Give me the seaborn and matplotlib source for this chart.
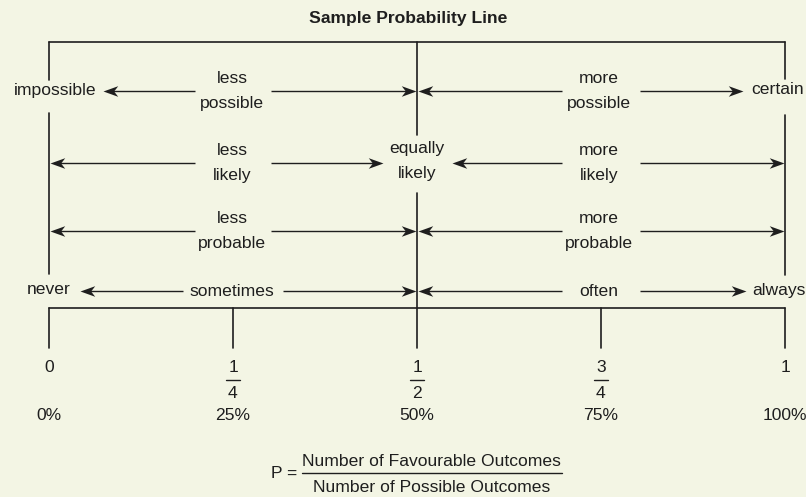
import numpy as np
import pandas as pd
import seaborn as sns
import matplotlib.pyplot as plt
from matplotlib.path import Path

# words along the probability line (one entry per row, top to bottom)
left_words = ["impossible", "", "", "never"]
right_words = ["certain", "", "", "always"]
left_labels = ["less\npossible", "less\nlikely", "less\nprobable", "sometimes"]
middle_labels = ["", "equally\nlikely", "", ""]
right_labels = ["more\npossible", "more\nlikely", "more\nprobable", "often"]

# scale under the line
tick_values = [0, 0.25, 0.5, 0.75, 1]
tick_numerators = ["0", "1", "1", "3", "1"]
tick_denominators = ["", "4", "2", "4", ""]
tick_percents = ["0%", "25%", "50%", "75%", "100%"]

title = "Sample Probability Line"
formula_top = "Number of Favourable Outcomes"
formula_bottom = "Number of Possible Outcomes"

# ---- layout (x in probability units, y in pixels from top) ----
bg = "#F3F5E4"
ink = "#1e1e1e"
row_y = [91, 163, 231, 291]
word_x_left = [0.009, 0, 0, 0]
word_x_right = [0.99, 1, 1, 0.992]
left_gap = [0.052, 0.052, 0.052, 0.068]
right_gap = [0.053, 0.053, 0.053, 0.053]
tips = [  # left end, middle-left, middle-right, right end
    [0.073, 0.4985, 0.5015, 0.943],
    [0.0015, 0.454, 0.548, 0.9985],
    [0.0015, 0.4985, 0.5015, 0.9985],
    [0.042, 0.4985, 0.5015, 0.947],
]

sns.set_theme(style="white", rc={"axes.facecolor": bg, "figure.facecolor": bg})
plt.rcParams["font.family"] = ["Liberation Sans", "DejaVu Sans"]
fs = 12.6

fig = plt.figure(figsize=(8.06, 4.97), dpi=100)
ax = fig.add_axes([0, 0, 1, 1])
ax.set_xlim(-49 / 736, 757 / 736)
ax.set_ylim(497, 0)
ax.axis("off")

# frame of the diagram
segs = [
    (0, 42, 1, 42), (0, 42, 0, 80), (0, 113, 0, 274),
    (1, 42, 1, 79), (1, 115, 1, 275),
    (0.5, 42, 0.5, 135), (0.5, 193, 0.5, 348),
    (0, 308, 1, 308),
]
for v in tick_values:
    if v != 0.5:
        segs.append((v, 308, v, 348))
frame = pd.DataFrame(
    [(i, s[0], s[1]) for i, s in enumerate(segs)] + [(i, s[2], s[3]) for i, s in enumerate(segs)],
    columns=["seg", "x", "y"],
)
sns.lineplot(data=frame, x="x", y="y", units="seg", estimator=None, sort=False,
             color=ink, linewidth=1.2, ax=ax)

# arrows
head_r = Path([(0, 0), (-1, 0.36), (-0.72, 0), (-1, -0.36), (0, 0)],
              [Path.MOVETO, Path.LINETO, Path.LINETO, Path.LINETO, Path.CLOSEPOLY])
head_l = Path([(0, 0), (1, 0.36), (0.72, 0), (1, -0.36), (0, 0)],
              [Path.MOVETO, Path.LINETO, Path.LINETO, Path.LINETO, Path.CLOSEPOLY])
rx, ry, lx, ly = [], [], [], []
for i, y in enumerate(row_y):
    lt, ml, mr, rt = tips[i]
    starts = [0.25 - left_gap[i], 0.25 + left_gap[i], 0.75 - right_gap[i], 0.75 + right_gap[i]]
    ends = [lt, ml, mr, rt]
    for s, e in zip(starts, ends):
        back = e + 0.01 if e < s else e - 0.01
        ax.plot([s, back], [y, y], color=ink, lw=1.0, solid_capstyle="butt")
        if e < s:
            lx.append(e); ly.append(y)
        else:
            rx.append(e); ry.append(y)
ax.scatter(rx, ry, marker=head_r, s=450, color=ink, linewidths=0, zorder=3)
ax.scatter(lx, ly, marker=head_l, s=450, color=ink, linewidths=0, zorder=3)

# row texts
tkw = dict(ha="center", va="center", fontsize=fs, color=ink, linespacing=1.78)
for i, y in enumerate(row_y):
    if left_words[i]:
        ax.text(word_x_left[i], y - 1, left_words[i], **tkw)
    if right_words[i]:
        ax.text(word_x_right[i], y - 1, right_words[i], **tkw)
    ax.text(0.249, y, left_labels[i], **tkw)
    ax.text(0.747, y, right_labels[i], **tkw)
    if middle_labels[i]:
        ax.text(0.5, y - 2, middle_labels[i], **tkw)

# scale labels
for v, n, d, p in zip(tick_values, tick_numerators, tick_denominators, tick_percents):
    ax.text(v, 367, n, **tkw)
    if d:
        ax.plot([v - 0.0095, v + 0.0095], [380, 380], color=ink, lw=1.0)
        ax.text(v, 393, d, **tkw)
    ax.text(v, 416, p, **tkw)

# title and formula
ax.text(0.488, 18, title, fontweight="bold", **tkw)
ax.text(0.319, 473, "P =", **tkw)
ax.text(0.52, 461, formula_top, **tkw)
ax.plot([0.3438, 0.697], [473, 473], color=ink, lw=1.0)
ax.text(0.52, 487, formula_bottom, **tkw)

fig.savefig("out.png", dpi=100, facecolor=bg)
